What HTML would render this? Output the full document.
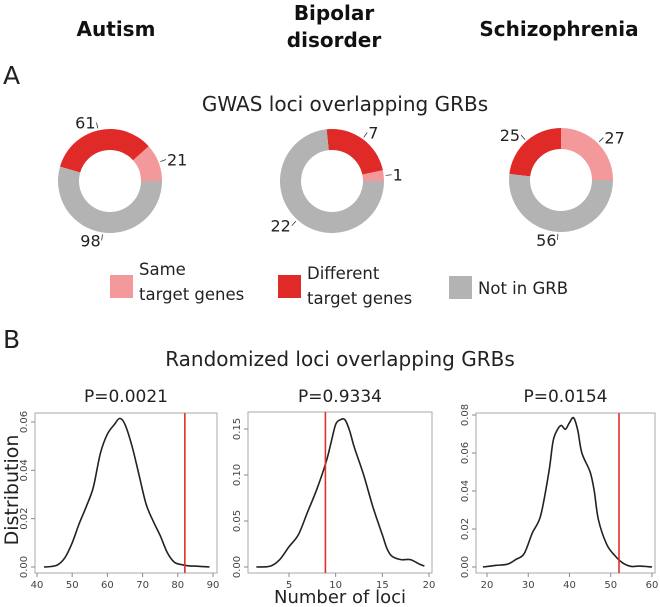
<!DOCTYPE html>
<html><head><meta charset="utf-8"><style>
body{margin:0;background:#fff}
svg{display:block;font-family:"DejaVu Sans","Liberation Sans",sans-serif}
</style></head><body>
<svg id="fig" width="660" height="607" viewBox="0 0 660 607">
<g font-weight="bold" font-size="20" fill="#111">
<text x="116" y="36" text-anchor="middle">Autism</text>
<text x="334" y="20" text-anchor="middle">Bipolar</text>
<text x="334" y="47" text-anchor="middle">disorder</text>
<text x="559" y="36" text-anchor="middle">Schizophrenia</text>
</g>
<text x="3" y="84" font-size="25" fill="#222">A</text>
<text x="345" y="111" font-size="20" text-anchor="middle" fill="#222">GWAS loci overlapping GRBs</text>
<g id="donuts"></g>
<g font-size="16.5" fill="#222">
<rect x="110" y="275" width="23" height="23" fill="#f4999b"/>
<text x="139" y="275">Same</text>
<text x="139" y="300">target genes</text>
<rect x="278" y="275" width="23" height="23" fill="#df2a27"/>
<text x="307" y="279">Different</text>
<text x="307" y="304">target genes</text>
<rect x="449" y="276" width="23" height="23" fill="#b3b3b3"/>
<text x="478" y="294">Not in GRB</text>
</g>
<text x="3" y="348" font-size="25" fill="#222">B</text>
<text x="340" y="366" font-size="20" text-anchor="middle" fill="#222">Randomized loci overlapping GRBs</text>
<text transform="translate(18,490) rotate(-90)" font-size="19" text-anchor="middle" fill="#222">Distribution</text>
<text x="340" y="603" font-size="18" text-anchor="middle" fill="#222">Number of loci</text>
<g id="plots"></g>
</svg>
<script>
// Donut data
const donutNames = ["autism","bipolar","schizophrenia"];
const sameTarget = [21, 1, 27];
const diffTarget = [61, 7, 25];
const notInGRB = [98, 22, 56];
// Density data
const autismX = [42,44,46,48,50,52,54,56,58,60,62,63.5,65,67,69,71,73,75,77,79,81,83,86,89];
const autismY = [0,0.0002,0.001,0.004,0.010,0.018,0.025,0.033,0.047,0.055,0.059,0.0615,0.059,0.050,0.038,0.026,0.019,0.013,0.006,0.002,0.001,0.0005,0.0003,0];
const bipolarX = [1.5,3,4,5,6,7,8,9,9.5,10,10.5,11,11.5,12,13,14,15,15.5,16,17,18,19,19.5];
const bipolarY = [0,0.001,0.008,0.022,0.035,0.06,0.085,0.115,0.135,0.155,0.16,0.16,0.148,0.13,0.10,0.065,0.035,0.02,0.012,0.008,0.008,0.003,0.001];
const schizoX = [19,22,25,27,29,31,33,35,36,37,38,39,40,41,42,43,45,46,47,49,51,53,55,57,60];
const schizoY = [0,0.0008,0.0015,0.004,0.007,0.018,0.027,0.05,0.066,0.072,0.0745,0.0725,0.076,0.0785,0.072,0.06,0.05,0.04,0.025,0.012,0.006,0.002,0.0003,0.0005,0];
const pValues = ["P=0.0021","P=0.9334","P=0.0154"];
const observed = [82, 8.9, 52];
const xTicks1 = [40,50,60,70,80,90];
const yTicks1 = [0,0.02,0.04,0.06];
const xTicks2 = [5,10,15,20];
const yTicks2 = [0,0.05,0.10,0.15];
const xTicks3 = [20,30,40,50,60];
const yTicks3 = [0,0.02,0.04,0.06,0.08];

const NS="http://www.w3.org/2000/svg";
function mk(tag,attrs,parent){const e=document.createElementNS(NS,tag);for(const k in attrs)e.setAttribute(k,attrs[k]);parent.appendChild(e);return e;}

const donutG=document.getElementById('donuts');
const centers=[[110,181],[332,181],[561,180]];
const R=52, r=31;
function arcPath(cx,cy,a0,a1){
  const p=(a,rr)=>[cx+rr*Math.cos(a),cy-rr*Math.sin(a)];
  const large=(a1-a0)>Math.PI?1:0;
  const [x0,y0]=p(a0,R),[x1,y1]=p(a1,R),[x2,y2]=p(a1,r),[x3,y3]=p(a0,r);
  return `M${x0},${y0} A${R},${R} 0 ${large} 0 ${x1},${y1} L${x2},${y2} A${r},${r} 0 ${large} 1 ${x3},${y3} Z`;
}
donutNames.forEach((nm,i)=>{
  const vals=[sameTarget[i],diffTarget[i],notInGRB[i]];
  const cols=["#f4999b","#df2a27","#b3b3b3"];
  const segNames=["same","different","not-in-grb"];
  const tot=vals.reduce((a,b)=>a+b,0);
  const [cx,cy]=centers[i];
  let a=0;
  vals.forEach((v,j)=>{
    const a1=a+v/tot*2*Math.PI;
    const p=mk('path',{d:arcPath(cx,cy,a,a1),fill:cols[j]},donutG);
    
    
    const mid=(a+a1)/2;
    const lx=cx+(R+2)*Math.cos(mid), ly=cy-(R+2)*Math.sin(mid);
    const tx=cx+(R+8)*Math.cos(mid), ty=cy-(R+8)*Math.sin(mid);
    const ln=mk('line',{x1:lx,y1:ly,x2:tx,y2:ty,stroke:'#333','stroke-width':0.8},donutG);
    
    
    const right=Math.cos(mid)>=0;
    const t=mk('text',{x:tx+(right?1:-1),y:ty+6,'font-size':16,fill:'#222','text-anchor':right?'start':'end'},donutG);
    t.textContent=v;
    
    
    a=a1;
  });
});

const plotsG=document.getElementById('plots');
const panels=[
 {box:[35,413,217,573],xr:[40,90],xs:[37,213],yr:[0,0.06],ys:[567,422],X:autismX,Y:autismY,xt:xTicks1,yt:yTicks1,yf:v=>v.toFixed(2)},
 {box:[248,412,432,573],xr:[5,20],xs:[289,429],yr:[0,0.15],ys:[567,429],X:bipolarX,Y:bipolarY,xt:xTicks2,yt:yTicks2,yf:v=>v.toFixed(2)},
 {box:[476,413,655,573],xr:[20,60],xs:[487,652],yr:[0,0.08],ys:[567,415],X:schizoX,Y:schizoY,xt:xTicks3,yt:yTicks3,yf:v=>v.toFixed(2)}
];
panels.forEach((P,i)=>{
  const g=mk('g',{},plotsG);
  
  
  const sx=v=>P.xs[0]+(v-P.xr[0])/(P.xr[1]-P.xr[0])*(P.xs[1]-P.xs[0]);
  const sy=v=>P.ys[0]+(v-P.yr[0])/(P.yr[1]-P.yr[0])*(P.ys[1]-P.ys[0]);
  const [x0,y0,x1,y1]=P.box;
  const t=mk('text',{x:(x0+x1)/2,y:402,'font-size':17,'text-anchor':'middle',fill:'#222'},g);
  t.textContent=pValues[i];
  
  
  const bx=mk('rect',{x:x0,y:y0,width:x1-x0,height:y1-y0,fill:'none',stroke:'#aaa','stroke-width':1},g);
  
  
  P.xt.forEach(v=>{
    const tk=mk('line',{x1:sx(v),x2:sx(v),y1:y1,y2:y1+4,stroke:'#888'},g);
    
    
    const tl=mk('text',{x:sx(v),y:y1+15,'font-size':10,'text-anchor':'middle',fill:'#444'},g);
    tl.textContent=v;
    
    
  });
  P.yt.forEach(v=>{
    const tk=mk('line',{x1:x0-4,x2:x0,y1:sy(v),y2:sy(v),stroke:'#888'},g);
    
    
    const tl=mk('text',{transform:`translate(${x0-8},${sy(v)}) rotate(-90)`,'font-size':10,'text-anchor':'middle',fill:'#444'},g);
    tl.textContent=P.yf(v);
    
    
  });
  const pts=P.X.map((x,k)=>[sx(x),sy(P.Y[k])]);
  let d=`M${pts[0][0]},${pts[0][1]}`;
  for(let k=0;k<pts.length-1;k++){
    const p0=pts[k-1]||pts[k],p1=pts[k],p2=pts[k+1],p3=pts[k+2]||p2;
    const c1=[p1[0]+(p2[0]-p0[0])/6,p1[1]+(p2[1]-p0[1])/6];
    const c2=[p2[0]-(p3[0]-p1[0])/6,p2[1]-(p3[1]-p1[1])/6];
    d+=` C${c1[0]},${c1[1]} ${c2[0]},${c2[1]} ${p2[0]},${p2[1]}`;
  }
  const cv=mk('path',{d:d,fill:'none',stroke:'#222','stroke-width':1.6},g);
  
  
  const rl=mk('line',{x1:sx(observed[i]),x2:sx(observed[i]),y1:y0,y2:y1,stroke:'#e0302a','stroke-width':1.6},g);
  
  
});
</script>
</body></html>
